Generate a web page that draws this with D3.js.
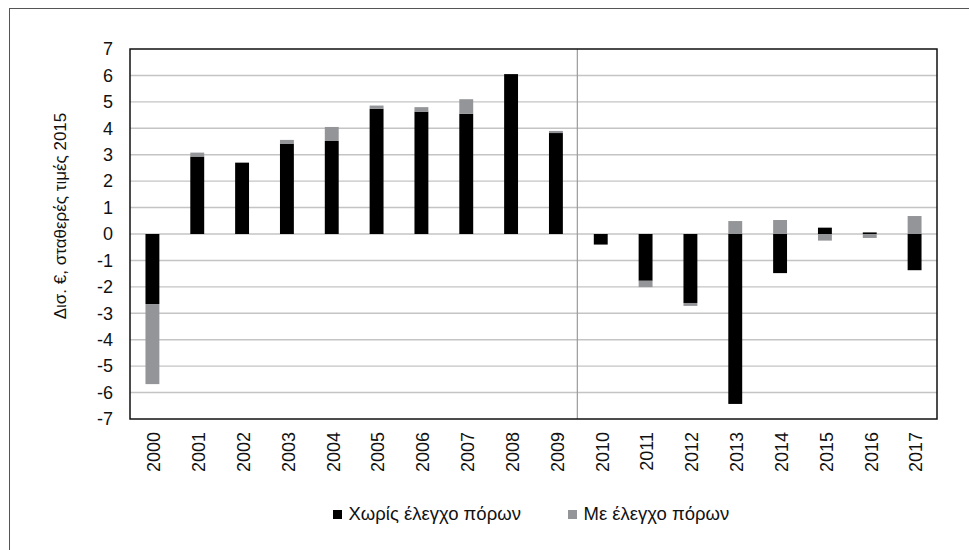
<!DOCTYPE html>
<html>
<head>
<meta charset="utf-8">
<script src="https://cdn.jsdelivr.net/npm/d3@7"></script>
<style>
  body { margin: 0; background: #fff; }
  svg { display: block; font-family: "Liberation Sans", Arial, sans-serif; }
</style>
</head>
<body>
<div id="chart"></div>
<script>
/* chart values */
var years = ["2000", "2001", "2002", "2003", "2004", "2005", "2006", "2007", "2008",
             "2009", "2010", "2011", "2012", "2013", "2014", "2015", "2016", "2017"];
var noControl = [-2.65, 2.93, 2.70, 3.42, 3.52, 4.74, 4.63, 4.55, 6.05,
                 3.82, -0.40, -1.77, -2.61, -6.43, -1.48, 0.24, 0.06, -1.37];
var withControl = [-3.03, 0.15, 0, 0.14, 0.53, 0.12, 0.17, 0.55, 0,
                   0.08, 0, -0.24, -0.11, 0.49, 0.53, -0.25, -0.15, 0.68];
var seriesNames = ["Χωρίς έλεγχο πόρων", "Με έλεγχο πόρων"];
var seriesColors = ["#000000", "#949598"];
var yTicks = [-7, -6, -5, -4, -3, -2, -1, 0, 1, 2, 3, 4, 5, 6, 7];
var yTitle = "Δισ. €, σταθερές τιμές 2015";

var W = 969, H = 550;
var plot = {left: 130, top: 49, right: 937, bottom: 419};

// rows for d3.stack
var rows = years.map(function(y, i) {
    return {year: y, a: noControl[i], b: withControl[i]};
});

var svg = d3.select("#chart").append("svg")
    .attr("width", W)
    .attr("height", H);

// outer frame (runs off the right and bottom of the picture)
svg.append("rect")
    .attr("x", 9.5).attr("y", 8.5)
    .attr("width", W + 20).attr("height", H + 20)
    .attr("fill", "none")
    .attr("stroke", "#555")
    .attr("stroke-width", 1);

var x = d3.scaleBand()
    .domain(years)
    .range([plot.left, plot.right])
    .paddingInner(0.69)
    .paddingOuter(0.345);

var y = d3.scaleLinear()
    .domain([-7, 7])
    .range([plot.bottom, plot.top]);

// gridlines
svg.append("g")
    .selectAll("line")
    .data(yTicks.filter(function(t) { return t > -7 && t < 7; }))
    .enter().append("line")
    .attr("x1", plot.left).attr("x2", plot.right)
    .attr("y1", function(d) { return y(d); })
    .attr("y2", function(d) { return y(d); })
    .attr("stroke", "#c4c4c4")
    .attr("stroke-width", 1.4);

// separator between 2009 and 2010
var sepX = plot.left + x.step() * 10 - 1;
svg.append("line")
    .attr("x1", sepX).attr("x2", sepX)
    .attr("y1", plot.top).attr("y2", plot.bottom)
    .attr("stroke", "#9a9a9a")
    .attr("stroke-width", 1.2);

// stacked bars, diverging around zero
var stack = d3.stack()
    .keys(["a", "b"])
    .offset(d3.stackOffsetDiverging);
var layers = stack(rows);

svg.append("g")
    .selectAll("g")
    .data(layers)
    .enter().append("g")
    .attr("fill", function(d, i) { return seriesColors[i]; })
    .selectAll("rect")
    .data(function(d) { return d; })
    .enter().append("rect")
    .attr("x", function(d) { return x(d.data.year); })
    .attr("width", x.bandwidth())
    .attr("y", function(d) { return y(Math.max(d[0], d[1])); })
    .attr("height", function(d) { return Math.abs(y(d[0]) - y(d[1])); });

// plot border
svg.append("rect")
    .attr("x", plot.left).attr("y", plot.top)
    .attr("width", plot.right - plot.left)
    .attr("height", plot.bottom - plot.top)
    .attr("fill", "none")
    .attr("stroke", "#111")
    .attr("stroke-width", 1.5);

// y axis labels (plain hyphen for negatives, like the original)
var yAxis = d3.axisLeft(y)
    .tickValues(yTicks)
    .tickSize(0)
    .tickPadding(17)
    .tickFormat(function(d) { return String(d); });
var gy = svg.append("g")
    .attr("transform", "translate(" + plot.left + ",0)")
    .call(yAxis);
gy.select(".domain").remove();
gy.attr("font-family", null).attr("font-size", null);
gy.selectAll("text")
    .attr("font-size", 18)
    .attr("fill", "#111");

// x axis labels, rotated
var xAxis = d3.axisBottom(x).tickSize(0).tickPadding(0);
var gx = svg.append("g")
    .attr("transform", "translate(0," + plot.bottom + ")")
    .call(xAxis);
gx.select(".domain").remove();
gx.attr("font-family", null).attr("font-size", null);
gx.selectAll("text")
    .attr("font-size", 18)
    .attr("fill", "#111")
    .attr("text-anchor", "end")
    .attr("dy", "0.35em")
    .attr("transform", "translate(1.5,13) rotate(-90)");

// y axis title
svg.append("text")
    .attr("transform", "translate(66,216) rotate(-90)")
    .attr("text-anchor", "middle")
    .attr("font-size", 17)
    .attr("fill", "#111")
    .text(yTitle);

// legend
var legendX = [333, 568];
var legend = svg.append("g")
    .selectAll("g")
    .data(seriesNames)
    .enter().append("g")
    .attr("transform", function(d, i) { return "translate(" + legendX[i] + ",510)"; });
legend.append("rect")
    .attr("width", 9).attr("height", 9)
    .attr("fill", function(d, i) { return seriesColors[i]; });
legend.append("text")
    .attr("x", 15.5).attr("y", 10)
    .attr("font-size", 18.5)
    .attr("fill", "#111")
    .text(function(d) { return d; });
</script>
</body>
</html>
